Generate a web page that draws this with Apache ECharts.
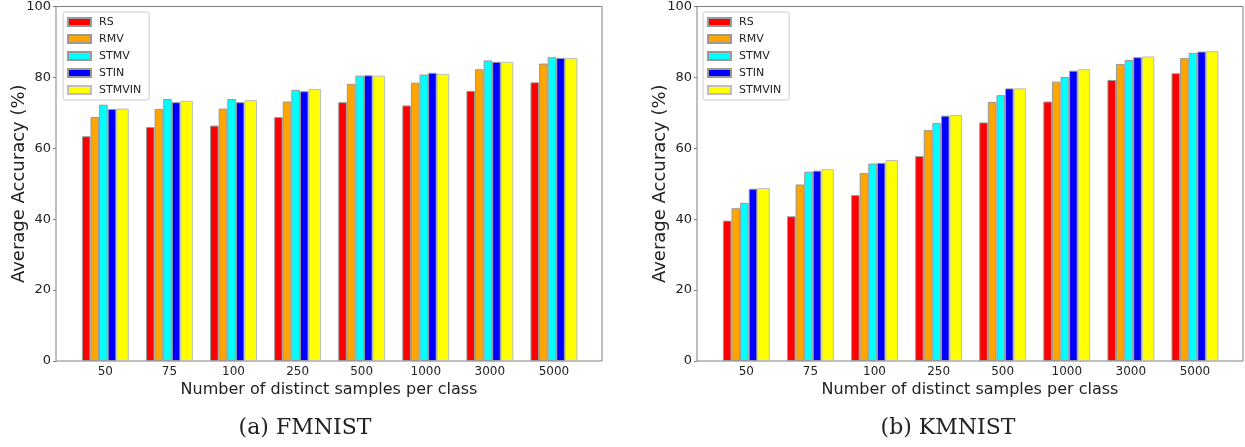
<!DOCTYPE html>
<html>
<head>
<meta charset="utf-8">
<title>Accuracy vs samples per class</title>
<script src="https://cdn.jsdelivr.net/npm/echarts@6/dist/echarts.min.js"></script>
<style>
  html, body { margin: 0; padding: 0; background: #fff; }
  #chart { width: 1245px; height: 447px; }
</style>
</head>
<body>
<div id="chart"></div>
<script>
// x categories (samples per class)
const categories = ['50', '75', '100', '250', '500', '1000', '3000', '5000']
const methods = ['RS', 'RMV', 'STMV', 'STIN', 'STMVIN']
const colors = ['#ff0000', '#ffa500', '#00ffff', '#0000ff', '#ffff00']
const yTicks = [0, 20, 40, 60, 80, 100]

// (a) FMNIST
const fmnistRS = [63.4, 66.0, 66.4, 68.8, 73.0, 72.1, 76.2, 78.6]
const fmnistRMV = [68.8, 71.1, 71.2, 73.2, 78.2, 78.5, 82.3, 83.9]
const fmnistSTMV = [72.3, 73.9, 73.9, 76.5, 80.5, 80.8, 84.8, 85.7]
const fmnistSTIN = [71.1, 73.0, 73.0, 76.1, 80.6, 81.3, 84.4, 85.5]
const fmnistSTMVIN = [71.2, 73.4, 73.6, 76.7, 80.5, 81.0, 84.4, 85.5]

// (b) KMNIST
const kmnistRS = [39.6, 40.8, 46.8, 57.8, 67.3, 73.2, 79.3, 81.2]
const kmnistRMV = [43.1, 49.8, 53.0, 65.2, 73.1, 78.8, 83.8, 85.5]
const kmnistSTMV = [44.6, 53.4, 55.7, 67.1, 75.0, 80.1, 84.9, 86.9]
const kmnistSTIN = [48.6, 53.7, 55.9, 69.2, 76.9, 81.9, 85.7, 87.3]
const kmnistSTMVIN = [48.8, 54.1, 56.7, 69.4, 76.9, 82.3, 85.9, 87.4]

const panels = [
  { caption: '(a) FMNIST', values: [fmnistRS, fmnistRMV, fmnistSTMV, fmnistSTIN, fmnistSTMVIN] },
  { caption: '(b) KMNIST', values: [kmnistRS, kmnistRMV, kmnistSTMV, kmnistSTIN, kmnistSTMVIN] }
]

const gridLefts = [56, 697]
const plotWidth = 546
const textColor = '#222'
const frameColor = '#808080'
const barWidths = [8.6, 8.6, 8.6, 8.6, 12.5]

const chart = echarts.init(document.getElementById('chart'))

const grid = gridLefts.map(left => ({
  left: left,
  top: 6,
  width: plotWidth,
  height: 355,
  show: true,
  borderColor: frameColor,
  borderWidth: 1
}))

const xAxis = panels.map((p, k) => ({
  type: 'value',
  gridIndex: k,
  min: -0.77,
  max: 7.75,
  splitNumber: 8,
  name: 'Number of distinct samples per class',
  nameLocation: 'middle',
  nameGap: 21,
  nameMoveOverlap: false,
  nameTextStyle: { fontFamily: 'DejaVu Sans', fontSize: 16, color: textColor },
  axisLine: { show: false, onZero: false },
  axisTick: { show: false },
  splitLine: { show: false },
  axisLabel: {
    fontFamily: 'DejaVu Sans',
    fontSize: 12,
    color: textColor,
    margin: 5,
    showMinLabel: false,
    showMaxLabel: false,
    // only integer positions carry a category
    formatter: v => (Number.isInteger(v) && v >= 0 && v < categories.length) ? categories[v] : ''
  }
}))

const yAxis = panels.map((p, k) => ({
  type: 'value',
  gridIndex: k,
  min: yTicks[0],
  max: yTicks[yTicks.length - 1],
  interval: 20,
  name: 'Average Accuracy (%)',
  nameLocation: 'middle',
  nameGap: 28,
  nameMoveOverlap: false,
  nameTextStyle: { fontFamily: 'DejaVu Sans', fontSize: 18, color: textColor },
  axisLine: { show: false, onZero: false },
  axisTick: { show: true, length: 3, lineStyle: { color: frameColor } },
  splitLine: { show: false },
  axisLabel: { fontFamily: 'DejaVu Sans', fontSize: 13, color: textColor, margin: 5 }
}))

const series = []
panels.forEach((p, k) => {
  methods.forEach((name, m) => {
    series.push({
      type: 'bar',
      name: name,
      xAxisIndex: k,
      yAxisIndex: k,
      barWidth: barWidths[m],
      barGap: '0%',
      itemStyle: {
        color: colors[m],
        borderColor: m === 4 ? '#bdbdbd' : '#999',
        borderWidth: 1
      },
      emphasis: { disabled: true },
      data: p.values[m].map((v, i) => [i, v])
    })
  })
})

const legend = [63, 703].map(left => ({
  left: left,
  top: 12,
  orient: 'vertical',
  data: methods,
  icon: 'rect',
  itemWidth: 23,
  itemHeight: 8,
  itemGap: 3,
  padding: [3, 8, 3, 4],
  borderColor: '#cccccc',
  borderWidth: 1,
  borderRadius: 3,
  backgroundColor: '#fff',
  selectedMode: false,
  textStyle: { fontFamily: 'DejaVu Sans', fontSize: 11, color: textColor, lineHeight: 14, padding: [0, 0, 0, 3] }
}))

const captions = panels.map((p, k) => ({
  type: 'text',
  x: k === 0 ? 305 : 948,
  y: 428,
  style: {
    text: p.caption,
    fontFamily: 'DejaVu Serif',
    fontSize: 22,
    fill: textColor,
    align: 'center',
    verticalAlign: 'middle'
  }
}))

chart.setOption({
  backgroundColor: '#fff',
  animation: false,
  grid: grid,
  xAxis: xAxis,
  yAxis: yAxis,
  legend: legend,
  series: series,
  graphic: captions
})

window.addEventListener('resize', () => {
  chart.resize()
})
</script>
</body>
</html>
